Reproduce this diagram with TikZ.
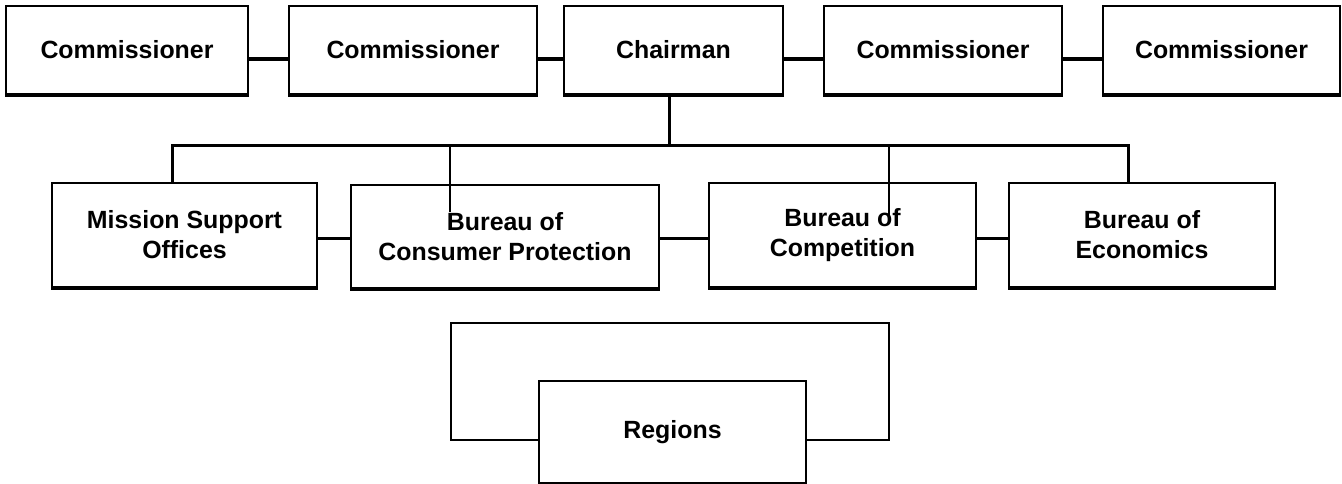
\documentclass[tikz,border=0pt]{standalone}
\usepackage{fontspec}
\setmainfont{Liberation Sans}
\begin{document}
\begin{tikzpicture}[x=1pt,y=-1pt,
  box/.style={draw, line width=1.7pt, fill=white, align=center, inner sep=0pt,
    font=\fontsize{24.9}{30}\selectfont\bfseries},
  link/.style={line width=3.5pt},
  bus/.style={line width=3pt},
  fine/.style={line width=1.1pt},
  brk/.style={line width=2pt}]
\useasboundingbox (0,0) rectangle (1342,484);
% top row
\node[box, minimum width=242pt, minimum height=88pt] (c1) at (127,50) {Commissioner};
\node[box, minimum width=248pt, minimum height=88pt] (c2) at (413,50) {Commissioner};
\node[box, minimum width=219pt, minimum height=88pt] (ch) at (673.5,50) {Chairman};
\node[box, minimum width=238pt, minimum height=88pt] (c4) at (943,50) {Commissioner};
\node[box, minimum width=237pt, minimum height=88pt] (c5) at (1221.5,50) {Commissioner};
% second row
\node[box, minimum width=265pt, minimum height=104pt] (ms) at (184.5,235) {Mission Support\\Offices};
\node[box, minimum width=308pt, minimum height=103pt] (cp) at (505,236.5) {Bureau of\\Consumer Protection};
\node[box, minimum width=267pt, minimum height=104pt] (co) at (842.5,235) {Bureau of\\Competition};
\node[box, minimum width=266pt, minimum height=104pt] (ec) at (1142,235) {Bureau of\\Economics};
% regions
\node[box, minimum width=267pt, minimum height=102pt] (rg) at (672.5,432) {Regions};
% bottom shadows
\foreach \n in {c1,c2,ch,c4,c5,ms,cp,co,ec}
  \draw[line width=2.2pt] ([yshift=-1.3pt]\n.south west) -- ([yshift=-1.3pt]\n.south east);
% top row links
\coordinate (r1) at (0,59);
\draw[link] (c1.east |- r1) -- (c2.west |- r1);
\draw[link] (c2.east |- r1) -- (ch.west |- r1);
\draw[link] (ch.east |- r1) -- (c4.west |- r1);
\draw[link] (c4.east |- r1) -- (c5.west |- r1);
% bus
\coordinate (bC) at (669,146);
\coordinate (bL) at (172,146);
\coordinate (bR) at (1128,146);
\draw[bus] (bC |- ch.south) -- (bC);
\draw[bus] (bL |- ms.north) -- (bL) -- (bR) -- (bR |- ec.north);
% thin drops
\coordinate (t1) at (450,146);
\coordinate (t1e) at (450,212);
\coordinate (t2) at (889,146);
\coordinate (t2e) at (889,215);
\draw[fine] (t1) -- (t1e);
\draw[fine] (t2) -- (t2e);
% second row links
\coordinate (r2) at (0,238);
\draw[bus] (ms.east |- r2) -- (cp.west |- r2);
\draw[bus] (cp.east |- r2) -- (co.west |- r2);
\draw[bus] (co.east |- r2) -- (ec.west |- r2);
% regions bracket
\coordinate (kL) at (451,323);
\coordinate (kR) at (889,323);
\coordinate (kb) at (0,440);
\draw[brk] (rg.west |- kb) -- (kL |- kb) -- (kL) -- (kR) -- (kR |- kb) -- (rg.east |- kb);
\end{tikzpicture}
\end{document}
